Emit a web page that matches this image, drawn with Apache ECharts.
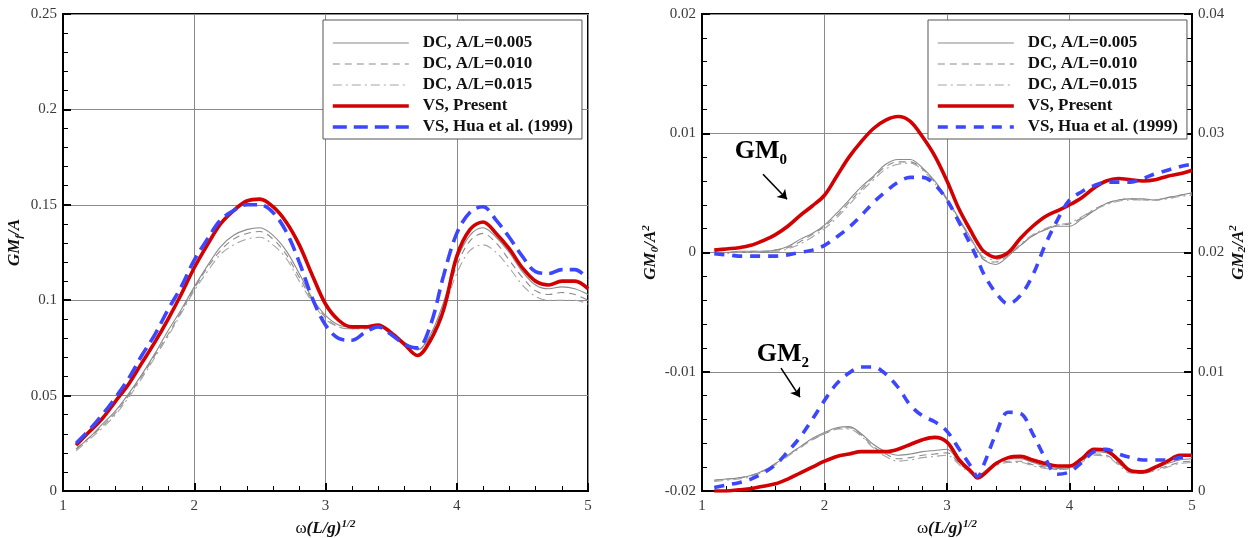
<!DOCTYPE html>
<html>
<head>
<meta charset="utf-8">
<script src="https://cdn.jsdelivr.net/npm/echarts@6/dist/echarts.min.js"></script>
<style>
  html, body { margin: 0; padding: 0; background: #fff; }
  #chart { width: 1256px; height: 538px; }
</style>
</head>
<body>
<div id="chart"></div>
<script>
// Frequency grid (ω(L/g)^1/2) for the mean-moment panel
const omegaL = [1.1,1.2,1.3,1.4,1.5,1.6,1.7,1.8,1.9,2.0,2.1,2.2,2.3,2.4,2.5,2.6,2.7,2.8,2.9,3.0,
                3.1,3.2,3.3,3.4,3.5,3.6,3.7,3.8,3.9,4.0,4.1,4.2,4.3,4.4,4.5,4.6,4.7,4.8,4.9,5.0];

// GM_f / A
const dcL005 = [0.022,0.028,0.035,0.042,0.051,0.061,0.072,0.084,0.095,0.107,0.118,0.128,0.134,0.137,0.138,0.134,0.126,0.114,0.101,0.092,
                0.087,0.086,0.086,0.087,0.083,0.078,0.074,0.082,0.099,0.121,0.134,0.138,0.133,0.125,0.115,0.108,0.106,0.107,0.106,0.103];
const dcL010 = [0.022,0.028,0.034,0.041,0.050,0.060,0.071,0.082,0.094,0.106,0.117,0.126,0.132,0.135,0.136,0.132,0.124,0.112,0.100,0.091,
                0.086,0.085,0.085,0.086,0.082,0.077,0.074,0.081,0.097,0.118,0.131,0.135,0.130,0.121,0.112,0.105,0.103,0.104,0.103,0.100];
const dcL015 = [0.021,0.027,0.033,0.040,0.049,0.059,0.070,0.081,0.093,0.105,0.115,0.124,0.129,0.132,0.133,0.129,0.122,0.110,0.099,0.090,
                0.086,0.085,0.085,0.086,0.082,0.077,0.074,0.080,0.095,0.114,0.126,0.129,0.125,0.117,0.108,0.102,0.100,0.100,0.100,0.098];
const vsPresentL = [0.024,0.031,0.038,0.047,0.056,0.067,0.078,0.090,0.103,0.117,0.129,0.140,0.147,0.152,0.153,0.149,0.141,0.129,0.113,0.098,
                0.0895,0.086,0.086,0.087,0.083,0.077,0.071,0.079,0.095,0.123,0.137,0.141,0.135,0.127,0.117,0.110,0.108,0.110,0.110,0.106];
const vsHuaL = [0.025,0.032,0.040,0.049,0.059,0.071,0.082,0.095,0.107,0.121,0.132,0.142,0.147,0.150,0.150,0.146,0.136,0.120,0.101,0.087,
                0.080,0.079,0.083,0.086,0.082,0.077,0.075,0.087,0.113,0.135,0.146,0.149,0.142,0.133,0.123,0.115,0.114,0.116,0.116,0.111];

// Frequency grid for the GM0 / GM2 panel
const omegaR = [1.1,1.2,1.3,1.4,1.5,1.6,1.7,1.8,1.9,2.0,2.1,2.2,2.3,2.4,2.5,2.6,2.7,2.8,2.9,3.0,3.1,3.2,3.25,
                3.3,3.4,3.5,3.6,3.7,3.8,3.9,4.0,4.1,4.2,4.3,4.4,4.5,4.6,4.7,4.8,4.9,5.0];

// GM_0 / A^2 (left axis)
const dc0005 = [0.0000,0.0000,0.0001,0.0001,0.0001,0.0002,0.0005,0.0011,0.0016,0.0023,0.0033,0.0044,0.0055,0.0064,0.0074,0.0078,0.0078,0.0071,0.0060,0.0045,0.0028,0.0011,0.0002,
                -0.0006,-0.0010,-0.0003,0.0006,0.0014,0.0019,0.0022,0.0022,0.0028,0.0035,0.0041,0.0044,0.0045,0.0045,0.0044,0.0046,0.0048,0.0050];
const dc0010 = [0.0000,0.0000,0.0000,0.0001,0.0001,0.0002,0.0004,0.0009,0.0015,0.0022,0.0031,0.0042,0.0053,0.0063,0.0072,0.0076,0.0076,0.0070,0.0059,0.0044,0.0027,0.0010,0.0001,
                -0.0006,-0.0008,-0.0002,0.0006,0.0014,0.0019,0.0023,0.0024,0.0029,0.0036,0.0041,0.0044,0.0045,0.0044,0.0044,0.0046,0.0048,0.0049];
const dc0015 = [0.0000,-0.0001,0.0000,0.0000,0.0001,0.0001,0.0003,0.0007,0.0013,0.0020,0.0029,0.0040,0.0051,0.0061,0.0070,0.0074,0.0075,0.0069,0.0058,0.0044,0.0027,0.0010,0.0002,
                -0.0004,-0.0006,-0.0001,0.0007,0.0015,0.0020,0.0023,0.0025,0.0030,0.0036,0.0040,0.0043,0.0044,0.0044,0.0044,0.0045,0.0047,0.0048];
const vsPresent0 = [0.0002,0.0003,0.0004,0.0006,0.0010,0.0015,0.0022,0.0031,0.0039,0.0048,0.0064,0.0080,0.0093,0.0104,0.0111,0.0114,0.0110,0.0097,0.0081,0.0060,0.0036,0.0017,0.0008,
                0.0001,-0.0004,0.0000,0.0012,0.0022,0.0030,0.0035,0.0040,0.0046,0.0054,0.0060,0.0062,0.0061,0.0060,0.0061,0.0064,0.0066,0.0069];
const vsHua0 = [-0.0001,-0.0002,-0.0003,-0.0003,-0.0003,-0.0003,-0.0002,0.0000,0.0002,0.0006,0.0013,0.0021,0.0031,0.0042,0.0051,0.0059,0.0063,0.0063,0.0057,0.0044,0.0025,0.0005,-0.0006,
                -0.0018,-0.0034,-0.0043,-0.0036,-0.0019,0.0006,0.0027,0.0044,0.0051,0.0056,0.0059,0.0059,0.0059,0.0062,0.0066,0.0069,0.0072,0.0074];

// GM_2 / A^2 (right axis)
const dc2005 = [0.0009,0.0010,0.0011,0.0013,0.0017,0.0023,0.0030,0.0037,0.0044,0.0049,0.0053,0.0054,0.0048,0.0039,0.0033,0.0030,0.0031,0.0033,0.0034,0.0035,0.0024,0.0015,0.0013,
                0.0016,0.0024,0.0027,0.0027,0.0024,0.0021,0.0019,0.0020,0.0026,0.0033,0.0032,0.0025,0.0017,0.0016,0.0019,0.0023,0.0026,0.0027];
const dc2010 = [0.0009,0.0010,0.0011,0.0013,0.0017,0.0023,0.0030,0.0037,0.0043,0.0048,0.0052,0.0053,0.0047,0.0037,0.0031,0.0027,0.0028,0.0030,0.0031,0.0032,0.0023,0.0015,0.0013,
                0.0015,0.0022,0.0025,0.0025,0.0022,0.0020,0.0018,0.0019,0.0025,0.0031,0.0030,0.0023,0.0016,0.0015,0.0018,0.0021,0.0024,0.0025];
const dc2015 = [0.0008,0.0009,0.0010,0.0012,0.0016,0.0022,0.0029,0.0036,0.0043,0.0048,0.0052,0.0052,0.0046,0.0036,0.0029,0.0025,0.0026,0.0028,0.0029,0.0030,0.0022,0.0014,0.0013,
                0.0015,0.0021,0.0024,0.0024,0.0021,0.0019,0.0018,0.0019,0.0024,0.0030,0.0029,0.0022,0.0015,0.0015,0.0017,0.0020,0.0023,0.0024];
const vsPresent2 = [0.0000,0.0000,0.0001,0.0002,0.0004,0.0006,0.0010,0.0015,0.0020,0.0025,0.0029,0.0031,0.0033,0.0033,0.0033,0.0035,0.0039,0.0043,0.0045,0.0041,0.0026,0.0016,0.0011,
                0.0014,0.0023,0.0028,0.0029,0.0026,0.0023,0.0021,0.0021,0.0027,0.0035,0.0034,0.0026,0.0017,0.0016,0.0020,0.0025,0.0030,0.0030];
const vsHua2 = [0.0003,0.0005,0.0007,0.0010,0.0015,0.0022,0.0033,0.0045,0.0060,0.0076,0.0090,0.0099,0.0104,0.0104,0.0098,0.0087,0.0072,0.0063,0.0058,0.0050,0.0035,0.0020,0.0012,
                0.0022,0.0048,0.0066,0.0065,0.0048,0.0028,0.0014,0.0016,0.0024,0.0033,0.0035,0.0031,0.0028,0.0026,0.0026,0.0026,0.0028,0.0029];

const names = ['DC, A/L=0.005', 'DC, A/L=0.010', 'DC, A/L=0.015', 'VS, Present', 'VS, Hua et al. (1999)'];

const FONT = '"Liberation Serif", "Times New Roman", serif';

const styles = [
  { color: '#8a8a8a', width: 1.1, type: 'solid' },
  { color: '#8a8a8a', width: 1.1, type: [7, 5] },
  { color: '#a4a4a4', width: 1.1, type: [9, 4, 2, 4] },
  { color: '#d20000', width: 3.6, type: 'solid' },
  { color: '#3c46ff', width: 3.6, type: [14, 7] }
];
const huaShortDash = { color: '#3c46ff', width: 3.6, type: [10, 8] };

function makeLine(name, xi, yi, omega, values, style, extra) {
  return Object.assign({
    name: name,
    type: 'line',
    xAxisIndex: xi,
    yAxisIndex: yi,
    data: omega.map((w, i) => [w, values[i]]),
    symbol: 'none',
    smooth: 0.35,
    itemStyle: { color: style.color },
    lineStyle: style,
    animation: false
  }, extra || {});
}

const titleRich = {
  b:   { fontFamily: FONT, fontWeight: 'bold', fontStyle: 'italic', fontSize: 17, color: '#111' },
  n:   { fontFamily: FONT, fontSize: 17, color: '#111' },
  sub: { fontFamily: FONT, fontWeight: 'bold', fontStyle: 'italic', fontSize: 11, color: '#111', padding: [9, 0, 0, 0] },
  sup: { fontFamily: FONT, fontWeight: 'bold', fontStyle: 'italic', fontSize: 11, color: '#111', padding: [0, 0, 9, 0] }
};

const tickLabel = { fontFamily: FONT, fontSize: 15, color: '#3a3a3a' };

function xAxisDef(gi) {
  return {
    type: 'value', gridIndex: gi, min: 1, max: 5, interval: 1,
    axisLine: { onZero: false, lineStyle: { color: '#000', width: 2 } },
    axisTick: { inside: true, length: 8, lineStyle: { color: '#000', width: 2 } },
    minorTick: { show: true, splitNumber: 5, length: 5, lineStyle: { color: '#000', width: 1 } },
    splitLine: { show: true, lineStyle: { color: '#8a8a8a', width: 1 } },
    axisLabel: Object.assign({ margin: 8 }, tickLabel),
    name: '{n|ω}{b|(L/g)}{sup|1/2}',
    nameLocation: 'middle',
    nameGap: 19,
    nameTextStyle: { rich: titleRich }
  };
}

function yAxisDef(gi, min, max, interval, pos, name, gap, pad) {
  return {
    type: 'value', gridIndex: gi, min: min, max: max, interval: interval, position: pos,
    axisLine: { onZero: false, lineStyle: { color: '#000', width: 2 } },
    axisTick: { inside: true, length: 8, lineStyle: { color: '#000', width: 2 } },
    minorTick: { show: true, splitNumber: 5, length: 5, lineStyle: { color: '#000', width: 1 } },
    splitLine: { show: pos === 'left', lineStyle: { color: '#8a8a8a', width: 1 } },
    axisLabel: Object.assign({ margin: 6 }, tickLabel),
    name: name,
    nameLocation: 'middle',
    nameGap: gap,
    nameTextStyle: { rich: titleRich, padding: pad }
  };
}

// Legend entries draw only the line sample (no marker dot)
function legendDef(left, huaStyle) {
  return {
    left: left, top: 20,
    orient: 'vertical',
    itemWidth: 76, itemHeight: 12, itemGap: 1,
    padding: [13, 9, 2, 8],
    backgroundColor: '#fff',
    borderColor: '#555', borderWidth: 1,
    selectedMode: false,
    itemStyle: { color: 'rgba(0,0,0,0)', borderColor: 'rgba(0,0,0,0)', borderWidth: 0, opacity: 0 },
    textStyle: { fontFamily: FONT, fontWeight: 'bold', fontSize: 17, color: '#111', lineHeight: 20, padding: [0, 0, 0, 9] },
    data: names.map((n, i) => ({
      name: n,
      lineStyle: Object.assign({}, i === 4 ? huaStyle : styles[i], { opacity: 1 })
    }))
  };
}

const annotRich = {
  m: { fontFamily: FONT, fontWeight: 'bold', fontSize: 26, color: '#000' },
  s: { fontFamily: FONT, fontWeight: 'bold', fontSize: 15, color: '#000', padding: [18, 0, 0, 0] }
};

const arrowStyle = {
  silent: true, animation: false,
  symbol: ['none', 'arrow'], symbolSize: 9,
  lineStyle: { color: '#000', width: 1.6, type: 'solid' },
  label: { show: false }
};

function annotation(text, sub, at, from, to) {
  return {
    markPoint: {
      silent: true, animation: false,
      symbol: 'circle', symbolSize: 1,
      itemStyle: { color: 'rgba(0,0,0,0)' },
      data: [{ coord: at, label: { show: true, position: 'inside', formatter: '{m|' + text + '}{s|' + sub + '}', rich: annotRich } }]
    },
    markLine: Object.assign({ data: [[{ coord: from }, { coord: to }]] }, arrowStyle)
  };
}

const leftSeries = [dcL005, dcL010, dcL015, vsPresentL, vsHuaL]
  .map((vals, i) => makeLine(names[i], 0, 0, omegaL, vals, styles[i]));

const gm0Series = [dc0005, dc0010, dc0015, vsPresent0, vsHua0]
  .map((vals, i) => makeLine(names[i], 1, 1, omegaR, vals, i === 4 ? huaShortDash : styles[i],
    i === 3 ? annotation('GM', '0', [1.48, 0.0085], [1.498, 0.00656], [1.694, 0.00446]) : null));

const gm2Series = [dc2005, dc2010, dc2015, vsPresent2, vsHua2]
  .map((vals, i) => makeLine(names[i], 1, 2, omegaR, vals, i === 4 ? huaShortDash : styles[i],
    i === 3 ? annotation('GM', '2', [1.66, 0.0115], [1.645, 0.0103], [1.80, 0.00787]) : null));

const chart = echarts.init(document.getElementById('chart'), null, { renderer: 'canvas' });

chart.setOption({
  animation: false,
  backgroundColor: '#fff',
  grid: [
    { left: 63, top: 14, width: 525, height: 477, show: true, borderColor: '#000', borderWidth: 2, containLabel: false, outerBoundsMode: 'none' },
    { left: 702, top: 14, width: 490, height: 477, show: true, borderColor: '#000', borderWidth: 2, containLabel: false, outerBoundsMode: 'none' }
  ],
  xAxis: [xAxisDef(0), xAxisDef(1)],
  yAxis: [
    yAxisDef(0, 0, 0.25, 0.05, 'left', '{b|GM}{sub|f}{b|/A}', 38, [0, 0, 0, 20]),
    yAxisDef(1, -0.02, 0.02, 0.01, 'left', '{b|GM}{sub|0}{b|/A}{sup|2}', 36, 0),
    yAxisDef(1, 0, 0.04, 0.01, 'right', '{b|GM}{sub|2}{b|/A}{sup|2}', 36, 0)
  ],
  legend: [legendDef(323, styles[4]), legendDef(928, huaShortDash)],
  series: leftSeries.concat(gm0Series, gm2Series)
});
</script>
</body>
</html>
